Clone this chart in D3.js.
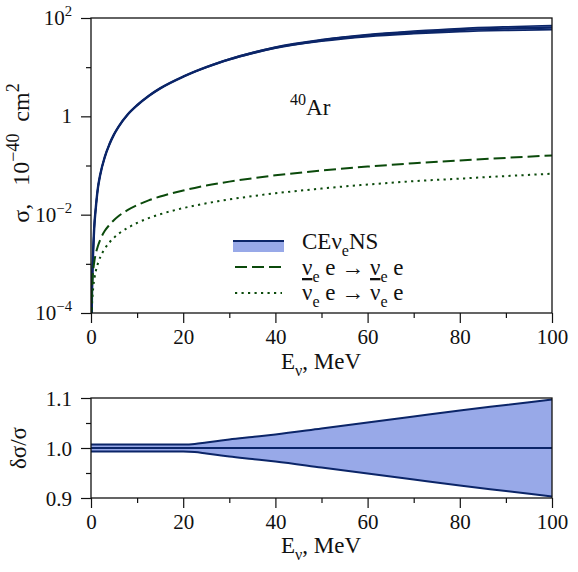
<!DOCTYPE html>
<html lang="en">
<head>
<meta charset="UTF-8">
<script src="https://cdn.jsdelivr.net/npm/d3@7"></script>
<title>CEvNS cross section</title>
<style>
    body { margin: 0; background: #fff; }
    svg text { font-family: "Liberation Serif", "Times New Roman", serif !important; fill: #111; }
</style>
</head>
<body>
<div id="chart"></div>
<script>
    // values (E in MeV, sigma in 1e-40 cm^2)
    var energy = [0, 0.05, 0.1, 0.2, 0.3, 0.5, 0.75, 1, 1.5, 2, 3, 4, 5, 6, 8, 10, 12.5, 15,
        20, 22.5, 25, 27.5, 30, 35, 40, 50, 60, 70, 80, 90, 100];
    var sigmaCevns = [0, 1e-5, 4e-5, 2.2e-4, 6e-4, 0.0021, 0.0065, 0.0125, 0.035, 0.065, 0.15, 0.27, 0.43, 0.62,
        1.1, 1.68, 2.6, 3.7, 6.4, 8.1, 10, 12.1, 14.4, 19.4, 25, 35, 44, 51, 57, 61, 64];
    var sigmaNuE = [0, 7.5e-5, 1.5e-4, 3e-4, 4.6e-4, 7.7e-4, 0.00116, 0.00155, 0.0023, 0.0031, 0.0047, 0.0062, 0.0078,
        0.0094, 0.0125, 0.0156, 0.0195, 0.0234, 0.031, 0.035, 0.039, 0.043, 0.047, 0.055, 0.063, 0.079, 0.095,
        0.111, 0.127, 0.143, 0.16];
    var sigmaAntiNuE = [0, 3.4e-5, 6.8e-5, 1.36e-4, 2.0e-4, 3.4e-4, 5.1e-4, 6.8e-4, 0.00102, 0.00136, 0.00204, 0.00272,
        0.0034, 0.0041, 0.0054, 0.0068, 0.0085, 0.0102, 0.0136, 0.0153, 0.017, 0.0187, 0.0204, 0.0238, 0.0272,
        0.034, 0.041, 0.048, 0.054, 0.061, 0.068];
    // relative uncertainty band of CEvNS
    var relUpper = [1.007, 1.007, 1.007, 1.007, 1.007, 1.007, 1.007, 1.007, 1.007, 1.007, 1.007, 1.007, 1.007, 1.007,
        1.007, 1.007, 1.007, 1.007, 1.007, 1.008, 1.011, 1.014, 1.017, 1.022, 1.027, 1.039, 1.051, 1.063, 1.075,
        1.086, 1.097];
    var relLower = [0.993, 0.993, 0.993, 0.993, 0.993, 0.993, 0.993, 0.993, 0.993, 0.993, 0.993, 0.993, 0.993, 0.993,
        0.993, 0.993, 0.993, 0.993, 0.993, 0.992, 0.989, 0.986, 0.983, 0.978, 0.973, 0.961, 0.949, 0.937, 0.925,
        0.914, 0.903];

    var energyMajor = [0, 20, 40, 60, 80, 100];
    var energyMinor = [10, 30, 50, 70, 90];
    var sigmaMajor = [1e-4, 1e-2, 1, 1e2];
    var sigmaMajorExp = ["\u22124", "\u22122", "", "2"];
    var sigmaMinor = [1e-3, 1e-1, 1e1];
    var ratioMajor = [0.9, 1.0, 1.1];
    var ratioMinor = [0.95, 1.05];

    var ink = "#111";
    var navy = "#0b2568";
    var bandFill = "#98a9e8";
    var green = "#0b4a0b";

    var svg = d3.select("#chart").append("svg")
        .attr("width", 578)
        .attr("height", 572);

    var x = d3.scaleLinear().domain([0, 100]).range([91, 552]);
    var yTop = d3.scaleLog().domain([1e-4, 1e2]).range([313, 18]);
    var yBot = d3.scaleLinear().domain([0.9, 1.1]).range([498, 398]);

    var rows = d3.range(energy.length).map(function (i) {
        return {
            e: energy[i], cev: sigmaCevns[i], nu: sigmaNuE[i], anu: sigmaAntiNuE[i],
            up: relUpper[i], lo: relLower[i]
        };
    });

    svg.append("clipPath").attr("id", "clipTop")
        .append("rect").attr("x", 91).attr("y", 18).attr("width", 461).attr("height", 295);

    // write a label made of pieces, some of them sub/superscripts
    function richText(t, parts, size, small) {
        var shift = 0;
        small = small || 0.7;
        parts.forEach(function (p) {
            var target = p.sup ? -0.42 * size : (p.sub ? 0.3 * size : 0);
            var ts = t.append("tspan").text(p.t)
                .attr("dy", target - shift)
                .attr("font-size", (p.sup || p.sub) ? size * small : size);
            if (p.over) ts.style("text-decoration", "overline");
            shift = target;
        });
    }

    function styleTicks(g) {
        g.select(".domain").remove();
        g.selectAll(".tick line").attr("stroke", ink).attr("stroke-width", 1.2);
    }

    // ---------- top panel ----------
    var upper = svg.append("g");

    upper.append("g").attr("transform", "translate(0,313)")
        .call(d3.axisBottom(x).tickValues(energyMajor).tickSize(10).tickFormat(d3.format("d")))
        .call(styleTicks)
        .selectAll("text").attr("font-size", 21).attr("dy", null).attr("y", 31).attr("fill", ink);
    upper.append("g").attr("transform", "translate(0,313)")
        .call(d3.axisBottom(x).tickValues(energyMinor).tickSize(5).tickFormat(""))
        .call(styleTicks);

    upper.append("g").attr("transform", "translate(91,0)")
        .call(d3.axisLeft(yTop).tickValues(sigmaMajor).tickSize(10).tickFormat(""))
        .call(styleTicks);
    upper.append("g").attr("transform", "translate(91,0)")
        .call(d3.axisLeft(yTop).tickValues(sigmaMinor).tickSize(5).tickFormat(""))
        .call(styleTicks);

    sigmaMajor.forEach(function (v, i) {
        var t = upper.append("text").attr("x", 72).attr("y", yTop(v) + 7).attr("text-anchor", "end");
        if (sigmaMajorExp[i] === "") {
            richText(t, [{ t: "1" }], 21);
        } else {
            richText(t, [{ t: "10" }, { t: sigmaMajorExp[i], sup: true }], 21);
        }
    });

    var curves = upper.append("g").attr("clip-path", "url(#clipTop)");

    curves.append("path").datum(rows.filter(function (d) { return d.cev > 0; }))
        .attr("fill", bandFill)
        .attr("d", d3.area().curve(d3.curveMonotoneX)
            .x(function (d) { return x(d.e); })
            .y0(function (d) { return yTop(d.cev * d.lo); })
            .y1(function (d) { return yTop(d.cev * d.up); }));

    function logLine(key, factor) {
        return d3.line().curve(d3.curveMonotoneX)
            .defined(function (d) { return d[key] > 0; })
            .x(function (d) { return x(d.e); })
            .y(function (d) { return yTop(d[key] * (factor ? d[factor] : 1)); });
    }

    ["up", "lo"].forEach(function (k) {
        curves.append("path").datum(rows)
            .attr("fill", "none").attr("stroke", navy).attr("stroke-width", 1.6)
            .attr("d", logLine("cev", k));
    });
    curves.append("path").datum(rows)
        .attr("fill", "none").attr("stroke", navy).attr("stroke-width", 2.4)
        .attr("d", logLine("cev"));
    curves.append("path").datum(rows)
        .attr("fill", "none").attr("stroke", green).attr("stroke-width", 2)
        .attr("stroke-dasharray", "12,5")
        .attr("d", logLine("nu"));
    curves.append("path").datum(rows)
        .attr("fill", "none").attr("stroke", green).attr("stroke-width", 2)
        .attr("stroke-dasharray", "2.2,4.3")
        .attr("d", logLine("anu"));

    upper.append("rect").attr("x", 91).attr("y", 18).attr("width", 461).attr("height", 295)
        .attr("fill", "none").attr("stroke", ink).attr("stroke-width", 1.3);

    // 40Ar label
    richText(upper.append("text").attr("x", 290).attr("y", 115),
        [{ t: "40", sup: true }, { t: "Ar" }], 23);

    // legend
    var leg = upper.append("g");
    leg.append("rect").attr("x", 233).attr("y", 240).attr("width", 51).attr("height", 12).attr("fill", bandFill);
    leg.append("line").attr("x1", 233).attr("x2", 284).attr("y1", 241).attr("y2", 241)
        .attr("stroke", navy).attr("stroke-width", 2.2);
    leg.append("line").attr("x1", 235).attr("x2", 282).attr("y1", 267).attr("y2", 267)
        .attr("stroke", green).attr("stroke-width", 2).attr("stroke-dasharray", "12,5");
    leg.append("line").attr("x1", 235).attr("x2", 282).attr("y1", 293).attr("y2", 293)
        .attr("stroke", green).attr("stroke-width", 2).attr("stroke-dasharray", "2.2,4.3");

    richText(leg.append("text").attr("x", 302).attr("y", 249),
        [{ t: "CE\u03bd" }, { t: "e", sub: true }, { t: "NS" }], 23);
    richText(leg.append("text").attr("x", 302).attr("y", 275),
        [{ t: "\u03bd" }, { t: "e", sub: true }, { t: " e \u2192 \u03bd" }, { t: "e", sub: true }, { t: " e" }], 23);
    richText(leg.append("text").attr("x", 302).attr("y", 300),
        [{ t: "\u03bd", over: true }, { t: "e", sub: true }, { t: " e \u2192 " }, { t: "\u03bd", over: true },
            { t: "e", sub: true }, { t: " e" }], 23);

    // axis titles
    richText(upper.append("text").attr("transform", "translate(29,153) rotate(-90)").attr("text-anchor", "middle"),
        [{ t: "\u03c3,\u2002 10" }, { t: "\u221240", sup: true }, { t: "\u2002cm" }, { t: "2", sup: true }], 24, 0.75);
    richText(upper.append("text").attr("x", 321).attr("y", 369).attr("text-anchor", "middle"),
        [{ t: "E" }, { t: "\u03bd", sub: true }, { t: ", MeV" }], 23);

    // ---------- bottom panel ----------
    var lower = svg.append("g");

    lower.append("path").datum(rows)
        .attr("fill", bandFill)
        .attr("d", d3.area().curve(d3.curveMonotoneX)
            .x(function (d) { return x(d.e); })
            .y0(function (d) { return yBot(d.lo); })
            .y1(function (d) { return yBot(d.up); }));

    ["up", "lo"].forEach(function (k) {
        lower.append("path").datum(rows)
            .attr("fill", "none").attr("stroke", navy).attr("stroke-width", 2)
            .attr("d", d3.line().curve(d3.curveMonotoneX)
                .x(function (d) { return x(d.e); })
                .y(function (d) { return yBot(d[k]); }));
    });
    lower.append("line").attr("x1", x(0)).attr("x2", x(100)).attr("y1", yBot(1)).attr("y2", yBot(1))
        .attr("stroke", navy).attr("stroke-width", 2);

    lower.append("g").attr("transform", "translate(0,498)")
        .call(d3.axisBottom(x).tickValues(energyMajor).tickSize(10).tickFormat(d3.format("d")))
        .call(styleTicks)
        .selectAll("text").attr("font-size", 21).attr("dy", null).attr("y", 31).attr("fill", ink);
    lower.append("g").attr("transform", "translate(0,498)")
        .call(d3.axisBottom(x).tickValues(energyMinor).tickSize(5).tickFormat(""))
        .call(styleTicks);
    lower.append("g").attr("transform", "translate(91,0)")
        .call(d3.axisLeft(yBot).tickValues(ratioMajor).tickSize(10).tickFormat(d3.format(".1f")))
        .call(styleTicks)
        .selectAll("text").attr("font-size", 21).attr("dy", null).attr("x", -19).attr("y", 7).attr("fill", ink);
    lower.append("g").attr("transform", "translate(91,0)")
        .call(d3.axisLeft(yBot).tickValues(ratioMinor).tickSize(5).tickFormat(""))
        .call(styleTicks);

    lower.append("rect").attr("x", 91).attr("y", 398).attr("width", 461).attr("height", 100)
        .attr("fill", "none").attr("stroke", ink).attr("stroke-width", 1.3);

    lower.append("text").attr("transform", "translate(26,448) rotate(-90)").attr("text-anchor", "middle")
        .attr("font-size", 23).text("\u03b4\u03c3/\u03c3");
    richText(lower.append("text").attr("x", 321).attr("y", 553).attr("text-anchor", "middle"),
        [{ t: "E" }, { t: "\u03bd", sub: true }, { t: ", MeV" }], 23);
</script>
</body>
</html>
